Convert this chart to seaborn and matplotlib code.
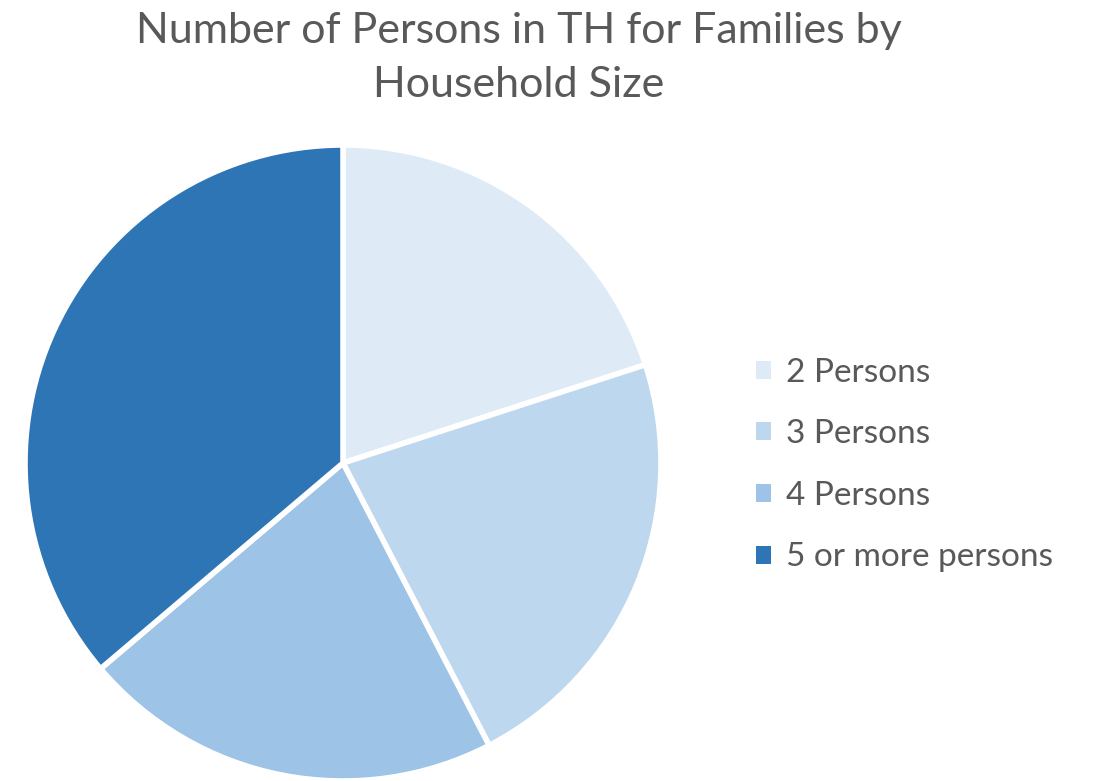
import matplotlib
matplotlib.use("Agg")
import matplotlib.pyplot as plt
from matplotlib.patches import Patch
import seaborn as sns

# slice shares (percent)
categories = ["2 Persons", "3 Persons", "4 Persons", "5 or more persons"]
shares = [20.0, 22.4, 21.4, 36.2]
colors = ["#DEEBF7", "#BDD7EE", "#9DC3E6", "#2E75B6"]

sns.set_theme(style="white")
plt.rcParams['font.family'] = ['Lato', 'DejaVu Sans']
text_color = "#595959"

fig = plt.figure(figsize=(10.94, 7.81), dpi=100)
fig.patch.set_facecolor("white")

# pie area in pixels: x 25..661, y 145..781
W, H = 1094, 781
ax = fig.add_axes([25 / W, 0 / H, 636 / W, 636 / H])
ax.pie(shares, colors=colors, startangle=90, counterclock=False,
       wedgeprops=dict(edgecolor="white", linewidth=4))
ax.set_xlim(-1.0, 1.0)
ax.set_ylim(-1.0, 1.0)
ax.set_aspect("equal")
ax.axis("off")

fig.text(519 / W, 1 - 31 / H, "Number of Persons in TH for Families by",
         ha="center", va="center", fontsize=31, color=text_color)
fig.text(519 / W, 1 - 85 / H, "Household Size",
         ha="center", va="center", fontsize=31, color=text_color)

handles = [Patch(facecolor=c, edgecolor="none") for c in colors]
leg = fig.legend(handles, categories, loc="center left",
                 bbox_to_anchor=(726 / W, 1 - 465 / H), frameon=False,
                 fontsize=24, handlelength=0.45, handleheight=0.45,
                 handletextpad=0.45, labelspacing=0.95)
for t in leg.get_texts():
    t.set_color(text_color)

fig.savefig("out.png", dpi=100, facecolor="white")
